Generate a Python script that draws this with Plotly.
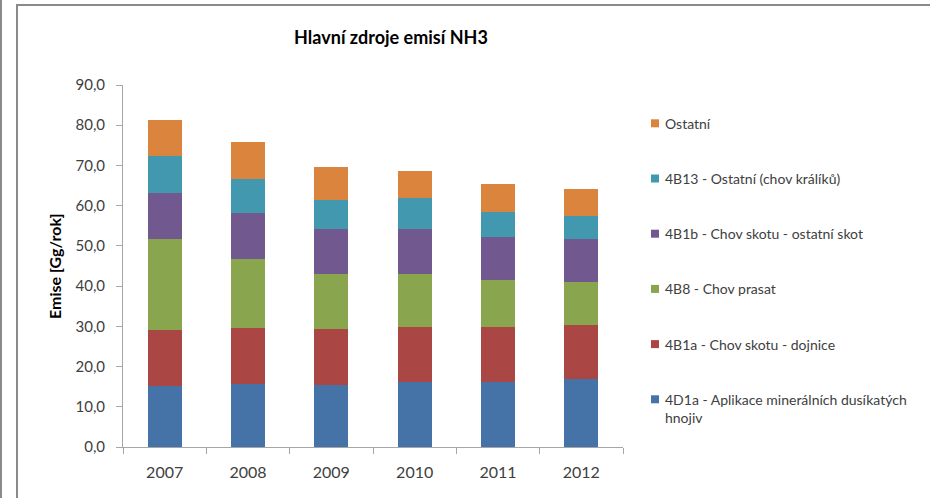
import plotly.graph_objects as go

years = ["2007", "2008", "2009", "2010", "2011", "2012"]

series_names = [
    "4D1a - Aplikace minerálních dusíkatých<br>hnojiv",
    "4B1a - Chov skotu - dojnice",
    "4B8 - Chov prasat",
    "4B1b - Chov skotu - ostatní skot",
    "4B13 - Ostatní (chov králíků)",
    "Ostatní",
]

v_4d1a = [15.2, 15.6, 15.4, 16.2, 16.2, 16.8]
v_4b1a = [13.8, 13.9, 13.9, 13.6, 13.6, 13.5]
v_4b8 = [22.7, 17.2, 13.7, 13.2, 11.6, 10.7]
v_4b1b = [11.4, 11.4, 11.2, 11.1, 10.8, 10.7]
v_4b13 = [9.3, 8.5, 7.3, 7.7, 6.3, 5.8]
v_ostatni = [9.0, 9.3, 8.2, 6.7, 7.0, 6.6]

series_values = [v_4d1a, v_4b1a, v_4b8, v_4b1b, v_4b13, v_ostatni]
colors = ["#4572A7", "#AA4643", "#89A54E", "#71588F", "#4198AF", "#DB843D"]

W, H = 930, 498
ML, MR, MT, MB = 123, 307, 85, 51
PW, PH = W - ML - MR, H - MT - MB


def px_x(px):
    return (px - ML) / PW


def px_y(py):
    return (H - MB - py) / PH


fig = go.Figure()
for name, vals, col in zip(series_names, series_values, colors):
    fig.add_trace(go.Bar(
        x=years, y=vals, name=name.replace("<br>", " "),
        marker=dict(color=col, line=dict(width=0)),
        showlegend=False,
    ))

font_main = "Lato, Carlito, Calibri, sans-serif"

fig.update_layout(
    width=W, height=H,
    margin=dict(l=ML, r=MR, t=MT, b=MB, autoexpand=False),
    barmode="stack",
    bargap=0.59,
    paper_bgcolor="white",
    plot_bgcolor="white",
    separators=", ",
    font=dict(family=font_main, color="#404040"),
    title=dict(
        text="<b>Hlavní zdroje emisí NH3</b>",
        font=dict(family=font_main, size=18, color="#000000"),
        x=391 / W, xref="container", xanchor="center",
        y=1 - 38 / H, yref="container", yanchor="middle",
    ),
    xaxis=dict(
        type="category",
        showgrid=False,
        showline=True, linecolor="#a6a6a6", linewidth=1,
        ticks="outside", tickson="boundaries", ticklen=6,
        tickcolor="#a6a6a6",
        tickfont=dict(size=16, color="#404040"),
        ticklabelstandoff=11,
    ),
    yaxis=dict(
        range=[0, 90], dtick=10, tickformat=".1f",
        showgrid=False, zeroline=False,
        showline=True, linecolor="#a6a6a6", linewidth=1,
        ticks="outside", ticklen=6, tickcolor="#a6a6a6",
        tickfont=dict(size=15, color="#404040"),
        ticklabelstandoff=8,
    ),
)

# y-axis title
fig.add_annotation(
    text="<b>Emise [Gg/rok]</b>", textangle=-90,
    xref="paper", yref="paper", x=px_x(54), y=px_y(266),
    xanchor="center", yanchor="middle", showarrow=False,
    font=dict(family=font_main, size=16, color="#000000"),
)

# legend (top item = last series)
legend_top, legend_step = 123.3, 55.2
for i, idx in enumerate(reversed(range(len(series_names)))):
    cy = legend_top + legend_step * i
    name = series_names[idx]
    fig.add_shape(
        type="rect", xref="paper", yref="paper",
        x0=px_x(651), x1=px_x(659), y0=px_y(cy - 4), y1=px_y(cy + 4),
        fillcolor=colors[idx], line=dict(width=0),
    )
    nlines = name.count("<br>") + 1
    fig.add_annotation(
        text=name, xref="paper", yref="paper",
        x=px_x(663), y=px_y(cy + (nlines - 1) * 9.5),
        xanchor="left", yanchor="middle", align="left", showarrow=False,
        font=dict(family=font_main, size=14, color="#404040"),
    )

# frame lines
frame_col = "#8a8a8a"
fig.add_shape(type="line", xref="paper", yref="paper",
              x0=px_x(1), x1=px_x(1), y0=px_y(0), y1=px_y(H),
              line=dict(color=frame_col, width=2))
fig.add_shape(type="line", xref="paper", yref="paper",
              x0=px_x(17), x1=px_x(17), y0=px_y(4), y1=px_y(H),
              line=dict(color=frame_col, width=2))
fig.add_shape(type="line", xref="paper", yref="paper",
              x0=px_x(17), x1=px_x(W + 4), y0=px_y(5), y1=px_y(5),
              line=dict(color=frame_col, width=2))

fig.write_html("out.html", config={"displayModeBar": False})

# remove the default page margin so the figure fills the window exactly
with open("out.html", "r", encoding="utf-8") as f:
    html = f.read()
html = html.replace(
    "<head>",
    "<head><style>html,body{margin:0;padding:0;overflow:hidden;}</style>",
    1,
)
with open("out.html", "w", encoding="utf-8") as f:
    f.write(html)
